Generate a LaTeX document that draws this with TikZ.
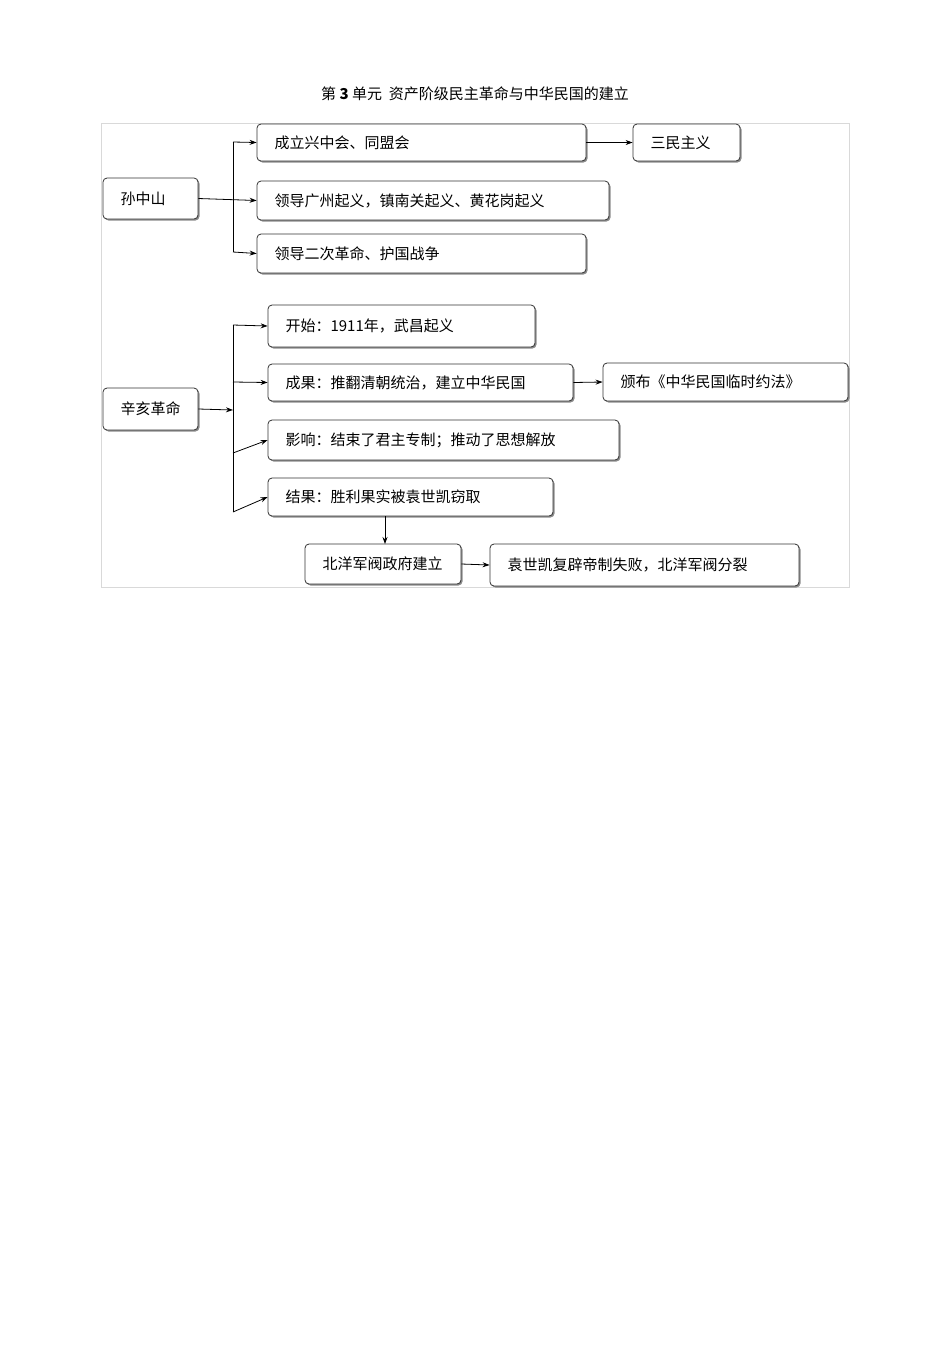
\documentclass[tikz,border=0pt]{standalone}
\usepackage{fontspec}
\setmainfont{Noto Sans CJK SC}
\usetikzlibrary{arrows.meta}
\begin{document}
\begin{tikzpicture}[x=1pt,y=-1pt,
  bx/.style={draw=black!80,line width=0.8pt,rounded corners=4pt,fill=white,
    font=\fontsize{15}{18}\selectfont,inner sep=0pt},
  ar/.style={-{Stealth[length=7pt,width=5pt]},line width=0.8pt}]
\useasboundingbox (0,0) rectangle (950,1345);
\node (title) at (475,94) {\fontsize{15}{18}\selectfont 第 \textbf{3} 单元\ \ 资产阶级民主革命与中华民国的建立};
\draw[black!15,line width=0.6pt] (101,123) rectangle (849,587);
\newcommand\bxx[6]{%
  \fill[black!45,rounded corners=4pt] (#2+1.5,#3+1.5) rectangle (#4+1.5,#5+1.5);
  \node[bx,minimum width=#4-#2,minimum height=#5-#3] (#1) at ({(#2+#4)/2},{(#3+#5)/2}) {};
  \node[anchor=west,font=\fontsize{15}{18}\selectfont] (#1t) at (#2+14,{(#3+#5)/2}) {#6};}
\bxx{sz}{103}{178}{198}{219}{孙中山}
\bxx{a1}{257}{124}{586}{161}{成立兴中会、同盟会}
\bxx{a2}{633}{124}{740}{161}{三民主义}
\bxx{a3}{257}{181}{609}{220}{领导广州起义，镇南关起义、黄花岗起义}
\bxx{a4}{257}{234}{586}{273}{领导二次革命、护国战争}
\bxx{xh}{103}{388}{198}{430}{辛亥革命}
\bxx{b1}{268}{305}{535}{347}{开始：1911年，武昌起义}
\bxx{b2}{268}{364}{573}{401}{成果：推翻清朝统治，建立中华民国}
\bxx{b3}{603}{363}{848}{401}{颁布《中华民国临时约法》}
\bxx{b4}{268}{420}{619}{460}{影响：结束了君主专制；推动了思想解放}
\bxx{b5}{268}{478}{553}{516}{结果：胜利果实被袁世凯窃取}
\bxx{c1}{305}{544}{461}{584}{北洋军阀政府建立}
\bxx{c2}{490}{544}{799}{586}{袁世凯复辟帝制失败，北洋军阀分裂}
\coordinate (j1) at (233,197);
\coordinate (j2) at (233,410);
\draw[line width=0.8pt] (233,142) -- (233,252);
\draw[ar] (sz.east) -- (a3.west);
\draw[ar] (233,142) -- (a1.west);
\draw[ar] (233,252) -- (a4.west);
\draw[ar] (a1.east) -- (a2.west);
\draw[line width=0.8pt] (233,325) -- (233,512);
\draw[ar] (xh.east) -- (j2);
\draw[ar] (233,325) -- (b1.west);
\draw[ar] (233,382) -- (b2.west);
\draw[ar] (233,453) -- (b4.west);
\draw[ar] (233,512) -- (b5.west);
\draw[ar] (b2.east) -- (b3.west);
\draw[ar] (385,516) -- (385,544);
\draw[ar] (c1.east) -- (c2.west);
\end{tikzpicture}
\end{document}
